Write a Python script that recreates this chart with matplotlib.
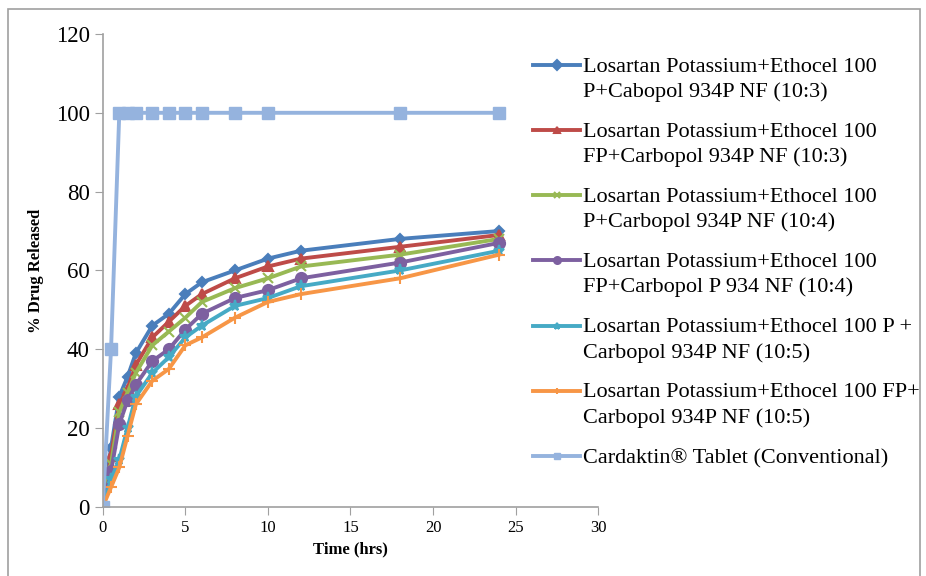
import matplotlib
matplotlib.use("Agg")
import matplotlib.pyplot as plt
import numpy as np
from matplotlib.patches import Rectangle
from matplotlib.legend_handler import HandlerLine2D

plt.rcParams['font.family'] = ['Liberation Serif', 'DejaVu Serif']

# time points (hrs)
t = [0, 0.5, 1, 1.5, 2, 3, 4, 5, 6, 8, 10, 12, 18, 24]
t_conv = [0, 0.5, 1, 1.5, 2, 3, 4, 5, 6, 8, 10, 18, 24]

f1 = [0, 15, 28, 33, 39, 46, 49, 54, 57, 60, 63, 65, 68, 70]
f2 = [0, 13, 26, 30, 36, 43, 47, 51, 54, 58, 61, 63, 66, 69]
f3 = [0, 11, 24, 29, 34, 41, 44.5, 48, 52, 55.5, 58, 61, 64, 68]
f4 = [0, 9, 21, 27, 31, 37, 40, 45, 49, 53, 55, 58, 62, 67]
f5 = [0, 7, 12, 20, 28, 34, 38, 43, 46, 51, 53, 56, 60, 65]
f6 = [0, 5, 10, 18, 26, 32, 35, 41, 43, 48, 52, 54, 58, 64]
conv = [0, 40, 100, 100, 100, 100, 100, 100, 100, 100, 100, 100, 100]

labels = [
    "Losartan Potassium+Ethocel 100\nP+Cabopol 934P NF (10:3)",
    "Losartan Potassium+Ethocel 100\nFP+Carbopol 934P NF (10:3)",
    "Losartan Potassium+Ethocel 100\nP+Carbopol 934P NF (10:4)",
    "Losartan Potassium+Ethocel 100\nFP+Carbopol P 934 NF (10:4)",
    "Losartan Potassium+Ethocel 100 P +\nCarbopol 934P NF (10:5)",
    "Losartan Potassium+Ethocel 100 FP+\nCarbopol 934P NF (10:5)",
    "Cardaktin\u00ae Tablet (Conventional)",
]


class FirstLineHandler(HandlerLine2D):
    # put the legend line next to the first text line, like Excel does
    def __init__(self, shift=0, **kw):
        super().__init__(**kw)
        self.shift = shift

    def create_artists(self, legend, orig_handle, xdescent, ydescent, width,
                       height, fontsize, trans):
        arts = super().create_artists(legend, orig_handle, xdescent, ydescent,
                                      width, height, fontsize, trans)
        for a in arts:
            a.set_ydata(np.asarray(a.get_ydata()) + self.shift)
        return arts


fig = plt.figure(figsize=(9.26, 5.76), dpi=100)
ax = fig.add_axes([0.111, 0.12, 0.535, 0.821])

styles = [
    ("#4A7EBB", "D", 5),
    ("#BE4B48", "^", 7),
    ("#98B954", "x", 7),
    ("#7D60A0", "o", 8),
    ("#46AAC5", "*", 8),
    ("#F79646", "+", 8),
]
lines = []
for y, lab, (c, m, ms) in zip([f1, f2, f3, f4, f5, f6], labels[:6], styles):
    ln, = ax.plot(t, y, color=c, marker=m, markersize=ms, lw=2.8, label=lab,
                  markeredgewidth=1.5)
    lines.append(ln)
ln, = ax.plot(t_conv, conv, color="#95B3DE", marker="s", markersize=8, lw=2.8,
              label=labels[6])
lines.append(ln)

ax.set_xlim(0, 30)
ax.set_ylim(0, 120)
ax.set_xticks(range(0, 31, 5))
ax.set_yticks(range(0, 121, 20))
for s in ["top", "right"]:
    ax.spines[s].set_visible(False)
for s in ["left", "bottom"]:
    ax.spines[s].set_color("#A0A0A0")
    ax.spines[s].set_linewidth(1.2)
ax.tick_params(axis="y", colors="#A0A0A0", labelcolor="black", labelsize=16.5,
               length=6, direction="out")
ax.tick_params(axis="x", colors="#A0A0A0", labelcolor="black", labelsize=12,
               length=6, direction="out")
ax.set_xlabel("Time (hrs)", fontweight="bold", fontsize=12)
ax.set_ylabel("% Drug Released", fontweight="bold", fontsize=12, labelpad=8)

hmap = {ln: FirstLineHandler(shift=10 if "\n" in ln.get_label() else 0)
        for ln in lines}
leg = ax.legend(loc="upper left", bbox_to_anchor=(0.869, 0.95), frameon=False,
                fontsize=16, handlelength=2.1, handletextpad=0.15,
                labelspacing=0.92, borderpad=0, borderaxespad=0,
                handler_map=hmap)
for h in leg.legend_handles:
    h.set_markersize(5)
for txt in leg.get_texts():
    txt.set_linespacing(1.4)

fig.patches.append(Rectangle((0.009, -0.01), 0.985, 0.995, transform=fig.transFigure,
                             fill=False, edgecolor="#A0A0A0", lw=1.2))

fig.savefig("out.png", dpi=100)
